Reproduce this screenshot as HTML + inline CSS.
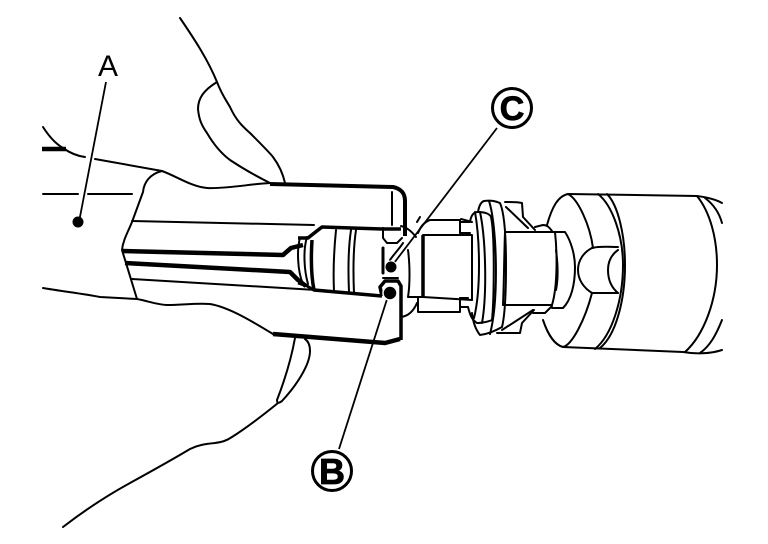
<!DOCTYPE html>
<html>
<head>
<meta charset="utf-8">
<style>
html,body{margin:0;padding:0;background:#fff;}
svg{display:block;}
text{font-family:"Liberation Sans",sans-serif;fill:#000;}
</style>
</head>
<body>
<svg width="768" height="544" viewBox="0 0 768 544" xmlns="http://www.w3.org/2000/svg">
<rect width="768" height="544" fill="#fff"/>
<g fill="none" stroke="#000" stroke-width="2" stroke-linecap="round" stroke-linejoin="round">
<!-- hand -->
<path d="M180 18C195 40 208 60 217 82C222 95 226 100 230 107C236 120 242 126 250 133C262 145 270 153 273 157C279 165 283 174 285 183"/>
<path d="M217 82C204 90 198 98 198 109C199 120 202 126 207 133C214 145 222 154 230 160C242 168 256 176 270 183"/>
<path d="M43 127C50 138 56 144 63 148C70 153 77 156 85 157"/>
<path d="M95 159L162 171C176 176 192 187 207 188C226 189 250 184 270 183"/>
<path d="M43 194H78M88 194H132"/>
<path d="M43 288C60 291 85 294 100 297L137 299C148 301 158 305 168 305C182 305 195 303 210 304C228 307 250 320 273 334"/>
<path d="M295 338C291 360 284 382 277 400C277 404 279 403 282 401C296 386 310 365 310 351C310 345 308 341 305 339"/>
<path d="M278 403C262 416 246 428 232 437C226 441 222 442 215 443C205 444 198 445 190 449C170 461 150 472 130 483C108 495 85 510 63 527"/>
<!-- tool outline -->
<path d="M162 171C150 174 144 182 143 192L132 222C128 232 123 240 122 250L137 299"/>
<path d="M132 221L314 225"/>
<path d="M132 279L316 290"/>
<path d="M392 192V225"/>
<!-- bulb details -->
<path d="M300 238C297 248 297 270 303 284"/>
<path d="M307 237C303 250 304 270 308 284"/>
<path d="M336 230C334 250 333 270 334 291"/>
<path d="M351 230C348 250 348 270 349 292"/>
<path d="M356 230C353 250 353 270 354 293"/>
<!-- block -->
<path d="M383 228V238L387 243H397L402 238"/>
<path d="M383 278H398" />
<path d="M383 248V273" stroke-width="3"/>
<path d="M401 226C408 228 412 232 416 237"/>
<path d="M420 217L417 222"/>
<path d="M403 243C400 248 394 254 390 260"/>
<path d="M408 250C410 265 410 285 408 297H423"/>
<path d="M401 317C409 316 414 310 417 303"/>
<path d="M430 220H460V233M418 233C420 228 424 222 430 220"/>
<path d="M418 297V312H460V298"/>
<path d="M460 222H470M460 233H470M460 298H468M460 307H468"/>
<path d="M461 219L472 222"/>
<path d="M423 235H472V300"/>
<path d="M423 297L472 300"/>
<!-- flange -->
<path d="M470 222C471 215 474 212 478 212C485 212 490 214 491 217C495 235 494 300 492 320C488 322 480 323 477 323C472 320 470 315 468 307"/>
<path d="M475 212C480 240 481 290 474 318"/>
<path d="M480 212C486 240 487 295 482 323"/>
<path d="M478 212C479 206 481 202 484 201C491 200 495 201 500 203C504 212 506 230 506 265C506 295 505 315 502 327C495 331 488 334 480 335C476 330 473 322 472 313"/>
<path d="M489 201C497 225 499 300 490 334"/>
<!-- wings -->
<path d="M505 202C510 202 518 202 522 203L523 217L535 230"/>
<path d="M506 207L528 228"/>
<path d="M497 333H520L522 323L534 310"/>
<path d="M502 330L533 310"/>
<path d="M535 227L543 225C547 225 549 227 552 231"/>
<path d="M533 313H545L552 306"/>
<!-- socket body -->
<path d="M505 232H555C557 250 558 285 552 305L503 305"/>
<path d="M505 232C504 260 504 285 503 305"/>
<path d="M555 232H565C571 241 575 255 575 267C575 285 571 300 563 308H552"/>
<path d="M556 250C558 265 558 280 556 290"/>
<!-- disc -->
<path d="M547 225C552 207 558 196 568 194C578 199 590 225 593 248"/>
<path d="M543 320C548 335 555 345 563 347C572 345 585 320 592 293"/>
<path d="M568 194L697 196C705 197 715 199 722 203"/>
<path d="M563 347L683 352C695 354 710 354 722 350"/>
<path d="M598 194C612 205 623 235 623 265C623 300 612 335 595 349"/>
<path d="M607 194C618 205 625 235 625 265C625 300 616 335 600 348"/>
<path d="M697 196C710 212 717 238 717 265C717 300 704 335 685 352"/>
<path d="M705 198C713 204 719 212 722 223"/>
<path d="M722 320C716 335 710 346 700 353"/>
<!-- notch -->
<path d="M592 248C584 252 578 260 578 270C578 280 584 288 592 293"/>
<path d="M592 248C600 246 610 247 618 247"/>
<path d="M592 293L618 293"/>
<path d="M618 250C611 255 608 262 608 270C608 280 612 288 618 293"/>
</g>
<!-- heavy lines -->
<g fill="none" stroke="#000" stroke-width="4.5" stroke-linejoin="round" stroke-linecap="butt">
<path d="M42 149H66"/>
<path d="M270 184L393 187C402 189 405 194 405 201V236" stroke-width="4"/>
<path d="M122 251L283 255L291 248L303 245"/>
<path d="M125 263L290 272L298 280L306 286"/>
<path d="M273 334L385 343L400 339" stroke-width="4.5"/>
<path d="M298 238H308L313 234L322 227L383 229H401" stroke-width="3.5"/>
<path d="M312 240C311 256 311 275 314 290L382 296" stroke-width="3.5"/>
<path d="M298 283L307 286L314 290" stroke-width="3"/>
<path d="M382 296L380 287L385 281H398L401 286V340" stroke-width="3.5"/>
<path d="M423 235V297" stroke-width="3.5"/>
</g>
<!-- leaders -->
<g stroke="#000" stroke-width="1.8" fill="none">
<path d="M106 82L79 222"/>
<path d="M339 449L389 293"/>
<path d="M497 128L391 267"/>
</g>
<circle cx="78" cy="222" r="5.5" fill="#000"/>
<circle cx="391" cy="267" r="6" fill="#000" stroke="#fff" stroke-width="1"/>
<circle cx="390" cy="293" r="7" fill="#000" stroke="#fff" stroke-width="1.5"/>
<!-- callouts -->
<circle cx="332" cy="471" r="19.5" fill="#fff" stroke="#000" stroke-width="3"/>
<circle cx="512" cy="108" r="19.5" fill="#fff" stroke="#000" stroke-width="3"/>
<text x="108" y="76" font-size="30" text-anchor="middle">A</text>
<text x="332" y="484" font-size="36" font-weight="bold" text-anchor="middle" stroke="#000" stroke-width="0.8">B</text>
<text x="512" y="120" font-size="34" font-weight="bold" text-anchor="middle" stroke="#000" stroke-width="0.8">C</text>
</svg>
</body>
</html>
